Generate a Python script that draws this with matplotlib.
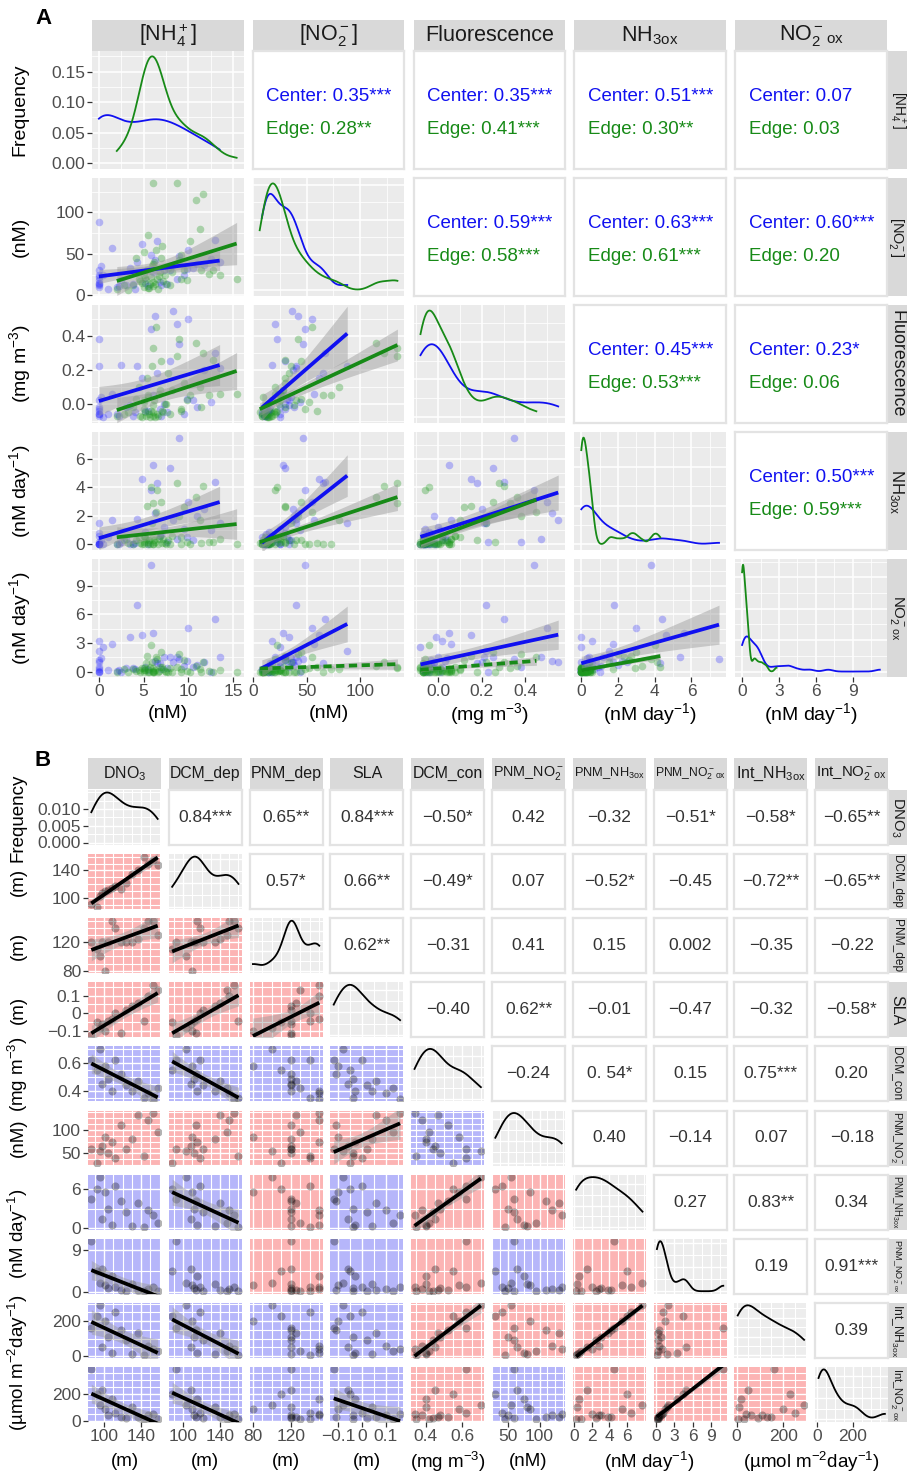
import numpy as np
import matplotlib
matplotlib.use("Agg")
import matplotlib.pyplot as plt
from matplotlib.ticker import AutoMinorLocator, MaxNLocator

plt.rcParams['font.family'] = ['Liberation Sans', 'DejaVu Sans']
plt.rcParams['mathtext.fontset'] = 'custom'
plt.rcParams['mathtext.rm'] = 'Liberation Sans'
plt.rcParams['mathtext.it'] = 'Liberation Sans:italic'
plt.rcParams['mathtext.bf'] = 'Liberation Sans:bold'
plt.rcParams['mathtext.sf'] = 'Liberation Sans'

# ======================= DATA: panel A =======================
# Center (blue) samples
center_nh4 = [0.0, 0.0, 0.0, 0.0, 0.0, 0.0, 0.0, 0.0, 0.2, 0.5, 1.0, 1.5, 2.0, 2.5, 3.0, 3.5, 4.0, 4.3,
              4.8, 5.2, 5.5, 5.8, 6.0, 6.3, 6.5, 7.0, 7.3, 7.6, 8.0, 8.3, 8.7, 9.0, 9.5, 10.0, 10.5, 11.0,
              11.8, 12.5, 13.0, 13.5, 0.0, 2.2, 6.8, 3.8, 9.8]
center_no2 = [12, 15, 18, 22, 25, 30, 88, 10, 35, 25, 8, 57, 10, 18, 12, 33, 8, 40,
              62, 15, 11, 48, 28, 42, 65, 12, 30, 14, 30, 36, 20, 47, 25, 55, 33, 38,
              37, 44, 67, 40, 14, 11, 16, 13, 32]
center_fluor = [-0.06, -0.04, 0.02, 0.38, -0.02, -0.03, 0.22, -0.07, 0.04, -0.08, -0.06, 0.06, -0.06, 0.23,
                -0.02, -0.01, -0.05, 0.22, 0.15, -0.04, -0.04, 0.44, 0.05, 0.52, 0.18, -0.07, 0.00, -0.05,
                0.25, 0.55, 0.47, 0.35, -0.06, 0.50, 0.02, -0.02, 0.20, 0.01, 0.30, 0.21, -0.06, -0.07,
                -0.03, -0.07, 0.03]
center_nh3ox = [0.0, 0.0, 0.6, 0.2, 0.0, 0.8, 1.5, 0.0, 0.3, 0.0, 0.5, 1.7, 0.0, 0.2, 0.4, 0.0, 0.1, 1.8,
                4.6, 0.9, 0.0, 3.8, 5.6, 2.2, 4.3, 0.7, 1.2, 0.2, 5.4, 1.7, 0.4, 7.5, 1.1, 3.0, 0.3, 2.0,
                2.5, 1.0, 4.4, 1.5, 0.0, 0.0, 0.6, 0.0, 0.5]
center_no2ox = [0.3, 0.0, 3.2, 0.5, 1.0, 1.2, 2.2, 0.1, 1.4, 2.6, 0.2, 2.9, 0.1, 0.0, 0.4, 3.6, 0.3, 7.0,
                3.8, 0.5, 0.2, 11.2, 4.0, 1.1, 0.9, 0.3, 1.5, 0.4, 1.5, 1.0, 1.5, 1.3, 0.6, 4.6, 0.5, 0.7,
                1.0, 0.0, 5.5, 1.5, 0.0, 0.2, 0.9, 0.4, 1.1]
# Edge (green) samples
edge_nh4 = [2.0, 2.8, 3.2, 4.5, 4.8, 5.0, 5.1, 5.3, 5.4, 5.5, 5.6, 5.7, 5.8, 5.9, 6.0, 6.0, 6.1, 6.2,
            6.3, 6.4, 6.5, 6.6, 6.8, 7.0, 7.2, 7.4, 7.7, 8.0, 8.7, 9.0, 9.2, 9.5, 10.9, 11.6, 11.4,
            11.3, 12.3, 12.8, 13.5, 15.4,
            3.8, 4.2, 4.6, 5.0, 5.2, 5.5, 6.1, 6.7, 7.1, 7.5, 8.2, 9.2, 9.8, 10.2]
edge_no2 = [8, 12, 6, 20, 15, 10, 25, 18, 30, 73, 9, 14, 22, 35, 11, 135, 16, 40,
            13, 55, 20, 8, 28, 45, 17, 24, 33, 12, 135, 42, 19, 30, 115, 122, 30, 80,
            26, 30, 25, 20,
            12, 45, 17, 52, 21, 9, 38, 23, 60, 14, 28, 48, 18, 65]
edge_fluor = [-0.07, -0.06, -0.05, 0.10, -0.08, -0.03, 0.02, -0.07, 0.15, 0.05, -0.06, -0.08, -0.04, 0.22,
              -0.07, 0.33, -0.05, 0.02, -0.08, 0.45, -0.06, -0.07, 0.08, 0.25, -0.05, 0.00, 0.18, -0.06,
              0.28, 0.38, -0.04, 0.12, 0.36, 0.30, -0.02, 0.10, 0.05, 0.26, 0.06, 0.06,
              -0.02, 0.03, -0.07, 0.01, -0.05, 0.04, -0.01, 0.06, -0.04, 0.00, 0.08, -0.03, 0.02, 0.05]
edge_nh3ox = [0.0, 0.3, 0.1, 0.5, 0.0, 0.2, 0.6, 0.4, 2.7, 0.0, 0.3, 0.0, 4.0, 1.5, 0.5, 2.9, 0.0, 0.3,
              0.2, 2.3, 3.8, 0.0, 0.6, 3.0, 0.4, 0.1, 0.3, 0.0, 4.3, 2.0, 0.5, 2.6, 3.3, 4.1, 0.1, 1.7,
              0.2, 0.2, 0.4, 0.0,
              0.0, 0.3, 0.1, 0.0, 0.5, 0.2, 0.0, 0.4, 0.1, 0.0, 0.6, 0.0, 0.2, 0.0]
edge_no2ox = [0.0, 0.3, 0.0, 0.2, 0.4, 0.0, 0.2, 0.9, 1.6, 0.3, 0.0, 0.5, 2.8, 1.0, 0.0, 0.4, 0.1, 0.0,
              0.2, 1.5, 1.3, 0.0, 0.5, 2.0, 0.3, 0.1, 0.0, 0.4, 0.5, 1.8, 0.0, 1.2, 0.6, 1.0, 0.0, 0.3,
              0.1, 0.0, 0.2, 0.0,
              0.3, 0.1, 0.0, 0.4, 0.2, 0.0, 0.0, 0.1, 0.5, 0.0, 0.0, 0.3, 0.1, 0.0]

a_strip_labels = [r'[NH$_4^+$]', r'[NO$_2^-$]', 'Fluorescence', r'NH$_{3\mathrm{ox}}$', r'NO$_2^-{}_{\mathrm{ox}}$']
a_y_titles = ['Frequency', '(nM)', r'(mg m$^{-3}$)', r'(nM day$^{-1}$)', r'(nM day$^{-1}$)']
a_x_titles = ['(nM)', '(nM)', r'(mg m$^{-3}$)', r'(nM day$^{-1}$)', r'(nM day$^{-1}$)']
a_ticks = [[0, 5, 10, 15], [0, 50, 100], [0.0, 0.2, 0.4], [0, 2, 4, 6], [0, 3, 6, 9]]
a_tick_labels = [['0', '5', '10', '15'], ['0', '50', '100'], ['0.0', '0.2', '0.4'], ['0', '2', '4', '6'],
                 ['0', '3', '6', '9']]
a_freq_ticks = [0.00, 0.05, 0.10, 0.15]
a_freq_labels = ['0.00', '0.05', '0.10', '0.15']

# upper-triangle pairs (row, col) with correlation labels
a_pairs = [(0, 1), (0, 2), (0, 3), (0, 4), (1, 2), (1, 3), (1, 4), (2, 3), (2, 4), (3, 4)]
a_center_r = ['0.35***', '0.35***', '0.51***', '0.07', '0.59***', '0.63***', '0.60***', '0.45***', '0.23*', '0.50***']
a_edge_r = ['0.28**', '0.41***', '0.30**', '0.03', '0.58***', '0.61***', '0.20', '0.53***', '0.06', '0.59***']
# fit line style in the mirrored lower panel: 'solid', 'dashed' or 'none'
a_center_fit = ['solid', 'solid', 'solid', 'none', 'solid', 'solid', 'solid', 'solid', 'solid', 'solid']
a_edge_fit = ['solid', 'solid', 'solid', 'none', 'solid', 'solid', 'dashed', 'solid', 'dashed', 'solid']

# ======================= DATA: panel B =======================
b_dno3 = [86, 92, 95, 98, 101, 104, 108, 112, 118, 124, 130, 137, 143, 148, 153, 158]
b_dcm_dep = [92, 88, 103, 108, 110, 112, 115, 118, 114, 122, 135, 140, 160, 150, 155, 148]
b_pnm_dep = [120, 110, 100, 120, 80, 120, 150, 140, 120, 120, 120, 125, 140, 150, 150, 130]
b_sla = [-0.12, -0.05, -0.08, -0.06, -0.10, -0.04, -0.03, 0.00, -0.11, 0.02, 0.04, 0.06, -0.04, 0.10, 0.16, 0.13]
b_dcm_con = [0.62, 0.55, 0.70, 0.45, 0.58, 0.48, 0.40, 0.62, 0.52, 0.44, 0.40, 0.47, 0.35, 0.38, 0.34, 0.42]
b_pnm_no2 = [60, 30, 55, 65, 85, 50, 75, 40, 110, 60, 80, 130, 45, 120, 135, 95]
b_pnm_nh3ox = [4.5, 6.0, 7.8, 1.5, 5.5, 3.0, 0.5, 6.5, 4.2, 2.5, 0.3, 3.8, 0.2, 2.8, 2.0, 0.8]
b_pnm_no2ox = [11.0, 4.5, 2.0, 5.0, 1.5, 0.8, 3.5, 1.2, 0.5, 0.3, 1.8, 0.4, 0.2, 0.6, 1.0, 0.3]
b_int_nh3ox = [160, 230, 290, 50, 200, 110, 20, 250, 150, 90, 10, 130, 5, 60, 40, 30]
b_int_no2ox = [380, 200, 120, 230, 90, 40, 160, 60, 30, 20, 100, 25, 10, 40, 50, 15]

b_strip_labels = [r'DNO$_3$', 'DCM_dep', 'PNM_dep', 'SLA', 'DCM_con', r'PNM_NO$_2^-$',
                  r'PNM_NH$_{3\mathrm{ox}}$', r'PNM_NO$_2^-{}_{\mathrm{ox}}$', r'Int_NH$_{3\mathrm{ox}}$',
                  r'Int_NO$_2^-{}_{\mathrm{ox}}$']
b_y_ticks = [[0.000, 0.005, 0.010], [100, 140], [80, 120], [-0.1, 0.0, 0.1], [0.4, 0.6], [50, 100],
             [0, 6], [0, 9], [0, 200], [0, 200]]
b_y_tick_labels = [['0.000', '0.005', '0.010'], ['100', '140'], ['80', '120'], ['\u22120.1', '0', '0.1'],
                   ['0.4', '0.6'], ['50', '100'], ['0', '6'], ['0', '9'], ['0', '200'], ['0', '200']]
b_x_ticks = [[100, 140], [100, 140], [80, 120], [-0.1, 0.0, 0.1], [0.4, 0.6], [50, 100],
             [0, 2, 4, 6], [0, 3, 6, 9], [0, 200], [0, 200]]
b_x_tick_labels = [['100', '140'], ['100', '140'], ['80', '120'], ['\u22120.1', '0', '0.1'], ['0.4', '0.6'],
                   ['50', '100'], ['0', '2', '4', '6'], ['0', '3', '6', '9'], ['0', '200'], ['0', '200']]
b_grid_div = [4, 4, 4, 2, 4, 4, 2, 2, 4, 4]
# correlation labels, upper triangle in row-major order
b_corr_text = ['0.84***', '0.65**', '0.84***', '\u22120.50*', '0.42', '\u22120.32', '\u22120.51*', '\u22120.58*', '\u22120.65**',
               '0.57*', '0.66**', '\u22120.49*', '0.07', '\u22120.52*', '\u22120.45', '\u22120.72**', '\u22120.65**',
               '0.62**', '\u22120.31', '0.41', '0.15', '0.002', '\u22120.35', '\u22120.22',
               '\u22120.40', '0.62**', '\u22120.01', '\u22120.47', '\u22120.32', '\u22120.58*',
               '\u22120.24', '0. 54*', '0.15', '0.75***', '0.20',
               '0.40', '\u22120.14', '0.07', '\u22120.18',
               '0.27', '0.83**', '0.34',
               '0.19', '0.91***',
               '0.39']
b_y_titles = ['Frequency', '(m)', '(m)', '(m)', r'(mg m$^{-3}$)', '(nM)']
b_y_span_titles = [r'(nM day$^{-1}$)', r'(µmol m$^{-2}$day$^{-1}$)']
b_x_titles = ['(m)', '(m)', '(m)', '(m)', r'(mg m$^{-3}$)', '(nM)']
b_x_span_titles = [r'(nM day$^{-1}$)', r'(µmol m$^{-2}$day$^{-1}$)']

# ======================= STYLE =======================
BLUE = '#1010F0'
GREEN = '#178A17'
PT_BLUE = '#2020FF'
PT_GREEN = '#1E9A1E'
GREY_BG = '#EBEBEB'
STRIP = '#D9D9D9'
BORDER = '#E3E3E3'
RED_BG = '#FCB4B4'
BLUE_BG = '#B6B6FA'
TICKC = '#4D4D4D'

W, H = 907, 1473
fig = plt.figure(figsize=(W / 100, H / 100), dpi=100)
renderer = fig.canvas.get_renderer()


def add_ax(x0, y0, w, h):
    return fig.add_axes([x0 / W, 1 - (y0 + h) / H, w / W, h / H])


def padded(vals, frac=0.05):
    lo, hi = float(np.min(vals)), float(np.max(vals))
    p = (hi - lo) * frac
    return lo - p, hi + p


def kde(vals, n=300):
    v = np.asarray(vals, float)
    sd = v.std(ddof=1)
    q75, q25 = np.percentile(v, [75, 25])
    lo = min(sd, (q75 - q25) / 1.34)
    if lo <= 0:
        lo = sd
    bw = 0.9 * lo * len(v) ** (-0.2)
    xs = np.linspace(v.min(), v.max(), n)
    d = np.exp(-0.5 * ((xs[:, None] - v[None, :]) / bw) ** 2).sum(1) / (len(v) * bw * np.sqrt(2 * np.pi))
    return xs, d


def fit_line(ax, x, y, color, style, lw):
    x = np.asarray(x, float)
    y = np.asarray(y, float)
    b, a = np.polyfit(x, y, 1)
    xs = np.linspace(x.min(), x.max(), 100)
    yh = a + b * xs
    n = len(x)
    s = np.sqrt(((y - (a + b * x)) ** 2).sum() / (n - 2))
    sxx = ((x - x.mean()) ** 2).sum()
    se = s * np.sqrt(1.0 / n + (xs - x.mean()) ** 2 / sxx)
    tval = 2.01 if n > 30 else 2.14
    ax.fill_between(xs, yh - tval * se, yh + tval * se, color='#999999', alpha=0.45, lw=0, zorder=3)
    ls = (0, (2.2, 1.2)) if style == 'dashed' else '-'
    ax.plot(xs, yh, color=color, lw=lw, ls=ls, zorder=4, solid_capstyle='butt')


def hide_spines(ax):
    for s in ax.spines.values():
        s.set_visible(False)


def box_spines(ax):
    for s in ax.spines.values():
        s.set_color(BORDER)
        s.set_linewidth(1.6)


def shrink_to(t, maxw, maxh):
    bb = t.get_window_extent(renderer)
    f = 1.0
    if bb.width > maxw:
        f = min(f, maxw / bb.width)
    if bb.height > maxh:
        f = min(f, maxh / bb.height)
    if f < 1.0:
        t.set_fontsize(t.get_fontsize() * f)


def strip(x0, y0, w, h, label, fs, rot=0):
    ax = add_ax(x0, y0, w, h)
    ax.set_facecolor(STRIP)
    ax.set_xticks([])
    ax.set_yticks([])
    hide_spines(ax)
    t = ax.text(0.5, 0.5, label, ha='center', va='center', rotation=rot, fontsize=fs,
                color='#1A1A1A', transform=ax.transAxes)
    shrink_to(t, w - 2, h - 2)
    return ax, t


def ticks_style(ax, fs, show_x, show_y):
    ax.tick_params(which='major', length=3.5, width=0.9, color='#333333', labelsize=fs,
                   labelcolor=TICKC, pad=1.5)
    ax.tick_params(which='minor', length=0)
    if not show_x:
        ax.tick_params(axis='x', which='major', length=0, labelbottom=False)
    if not show_y:
        ax.tick_params(axis='y', which='major', length=0, labelleft=False)


RS_X, RS_W = 887, 19.5   # right-hand strips (kept inside the canvas)

# ======================= PANEL A =======================
A_COL_X = [92 + k * 160.8 for k in range(5)]
A_ROW_Y = [51 + k * 127.1 for k in range(5)]
A_W, A_H = 151.5, 117.5

a_center = [center_nh4, center_no2, center_fluor, center_nh3ox, center_no2ox]
a_edge = [edge_nh4, edge_no2, edge_fluor, edge_nh3ox, edge_no2ox]
a_lims = [padded(list(c) + list(e)) for c, e in zip(a_center, a_edge)]

fig.text(35 / W, 1 - 18 / H, 'A', fontsize=16, fontweight='bold', ha='left', va='center')

for j in range(5):
    strip(A_COL_X[j], 20, A_W, 31, a_strip_labels[j], 15.5)
for i in range(5):
    strip(RS_X, A_ROW_Y[i], RS_W, A_H, a_strip_labels[i], 15.5, rot=270)

for i in range(5):
    for j in range(5):
        ax = add_ax(A_COL_X[j], A_ROW_Y[i], A_W, A_H)
        if i < j:
            ax.set_facecolor('white')
            box_spines(ax)
            ax.set_xticks([])
            ax.set_yticks([])
            k = a_pairs.index((i, j))
            ax.text(0.09, 0.615, 'Center: ' + a_center_r[k], color=BLUE, fontsize=13.5,
                    transform=ax.transAxes, ha='left', va='center')
            ax.text(0.09, 0.335, 'Edge: ' + a_edge_r[k], color=GREEN, fontsize=13.5,
                    transform=ax.transAxes, ha='left', va='center')
            continue
        ax.set_facecolor(GREY_BG)
        hide_spines(ax)
        ax.set_axisbelow(True)
        ax.set_xlim(a_lims[j])
        ax.set_xticks(a_ticks[j], labels=a_tick_labels[j])
        ax.xaxis.set_minor_locator(AutoMinorLocator(2))
        if i == j:
            ymax = 0.0
            for vals, col in ((a_center[i], BLUE), (a_edge[i], GREEN)):
                xs, d = kde(vals)
                ax.plot(xs, d, color=col, lw=1.3, zorder=3)
                ymax = max(ymax, d.max())
            ax.set_ylim(-0.05 * ymax, 1.05 * ymax)
            if i == 0:
                ax.set_yticks(a_freq_ticks, labels=a_freq_labels)
            else:
                ax.yaxis.set_major_locator(MaxNLocator(4))
            ax.yaxis.set_minor_locator(AutoMinorLocator(2))
        else:
            ax.set_ylim(a_lims[i])
            ax.set_yticks(a_ticks[i], labels=a_tick_labels[i])
            ax.yaxis.set_minor_locator(AutoMinorLocator(2))
            ax.scatter(a_center[j], a_center[i], s=30, color=PT_BLUE, alpha=0.28, lw=0, zorder=2)
            ax.scatter(a_edge[j], a_edge[i], s=30, color=PT_GREEN, alpha=0.32, lw=0, zorder=2)
            k = a_pairs.index((j, i))
            if a_center_fit[k] != 'none':
                fit_line(ax, a_center[j], a_center[i], BLUE, a_center_fit[k], 2.7)
            if a_edge_fit[k] != 'none':
                fit_line(ax, a_edge[j], a_edge[i], GREEN, a_edge_fit[k], 2.7)
        ax.grid(True, which='major', color='white', lw=1.1)
        ax.grid(True, which='minor', color='white', lw=0.55)
        ticks_style(ax, 12.5, show_x=(i == 4), show_y=(j == 0))

for i in range(5):
    fig.text(20 / W, 1 - (A_ROW_Y[i] + A_H / 2) / H, a_y_titles[i], rotation=90, fontsize=14,
             ha='center', va='center')
for j in range(5):
    fig.text((A_COL_X[j] + A_W / 2) / W, 1 - 714 / H, a_x_titles[j], fontsize=14,
             ha='center', va='center')

# ======================= PANEL B =======================
B_COL_X = [88 + k * 80.8 for k in range(10)]
B_ROW_Y = [790 + k * 64.1 for k in range(10)]
B_W, B_H = 73, 55

b_vars = [b_dno3, b_dcm_dep, b_pnm_dep, b_sla, b_dcm_con, b_pnm_no2, b_pnm_nh3ox, b_pnm_no2ox,
          b_int_nh3ox, b_int_no2ox]
b_lims = [padded(v) for v in b_vars]
b_upper = {}
idx = 0
for r in range(10):
    for c in range(r + 1, 10):
        b_upper[(r, c)] = b_corr_text[idx]
        idx += 1

fig.text(35 / W, 1 - 760 / H, 'B', fontsize=16, fontweight='bold', ha='left', va='center')

for j in range(10):
    strip(B_COL_X[j], 758, B_W, 31, b_strip_labels[j], 11.5)
for i in range(10):
    strip(RS_X, B_ROW_Y[i], RS_W, B_H, b_strip_labels[i], 11.5, rot=270)

for i in range(10):
    for j in range(10):
        ax = add_ax(B_COL_X[j], B_ROW_Y[i], B_W, B_H)
        if i < j:
            ax.set_facecolor('white')
            box_spines(ax)
            ax.set_xticks([])
            ax.set_yticks([])
            ax.text(0.5, 0.5, b_upper[(i, j)], color='#333333', fontsize=12.5,
                    transform=ax.transAxes, ha='center', va='center')
            continue
        hide_spines(ax)
        ax.set_axisbelow(True)
        ax.set_xlim(b_lims[j])
        ax.set_xticks(b_x_ticks[j], labels=b_x_tick_labels[j])
        ax.xaxis.set_minor_locator(AutoMinorLocator(b_grid_div[j]))
        if i == j:
            ax.set_facecolor('#EDEDED')
            xs, d = kde(b_vars[i])
            ax.plot(xs, d, color='black', lw=1.3, zorder=3)
            ax.set_ylim(-0.05 * d.max(), 1.05 * d.max())
            if i == 0:
                ax.set_yticks(b_y_ticks[0], labels=b_y_tick_labels[0])
                ax.yaxis.set_minor_locator(AutoMinorLocator(2))
            else:
                ax.yaxis.set_major_locator(MaxNLocator(3))
                ax.yaxis.set_minor_locator(AutoMinorLocator(2))
        else:
            lab = b_upper[(j, i)]
            ax.set_facecolor(BLUE_BG if lab.startswith('\u2212') else RED_BG)
            ax.set_ylim(b_lims[i])
            ax.set_yticks(b_y_ticks[i], labels=b_y_tick_labels[i])
            ax.yaxis.set_minor_locator(AutoMinorLocator(b_grid_div[i] if len(b_y_ticks[i]) == 2 else 2))
            ax.scatter(b_vars[j], b_vars[i], s=34, color='black', alpha=0.3, lw=0, zorder=2)
            if '*' in lab:
                fit_line(ax, b_vars[j], b_vars[i], 'black', 'solid', 2.7)
        ax.grid(True, which='major', color='white', lw=1.0)
        ax.grid(True, which='minor', color='white', lw=0.8)
        ticks_style(ax, 12.5, show_x=(i == 9), show_y=(j == 0))

for i in range(6):
    fig.text(18 / W, 1 - (B_ROW_Y[i] + B_H / 2) / H, b_y_titles[i], rotation=90, fontsize=13.5,
             ha='center', va='center')
for k, t in enumerate(b_y_span_titles):
    r0 = 6 + 2 * k
    yc = (B_ROW_Y[r0] + B_ROW_Y[r0 + 1] + B_H) / 2
    fig.text(18 / W, 1 - yc / H, t, rotation=90, fontsize=13.5, ha='center', va='center')
for j in range(6):
    fig.text((B_COL_X[j] + B_W / 2) / W, 1 - 1462 / H, b_x_titles[j], fontsize=13.5,
             ha='center', va='center')
for k, t in enumerate(b_x_span_titles):
    c0 = 6 + 2 * k
    xc = (B_COL_X[c0] + B_COL_X[c0 + 1] + B_W) / 2
    fig.text(xc / W, 1 - 1462 / H, t, fontsize=13.5, ha='center', va='center')

fig.savefig('out.png', dpi=100, facecolor='white')
